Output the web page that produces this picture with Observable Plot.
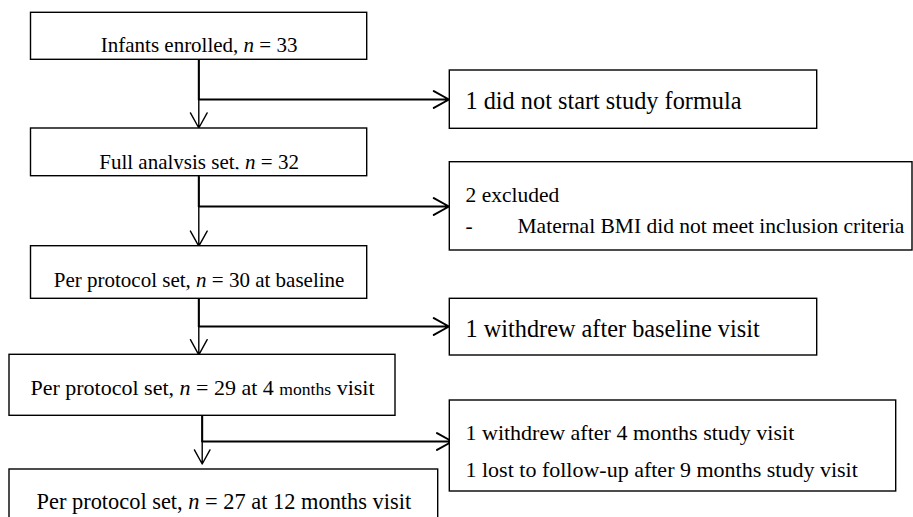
<!DOCTYPE html>
<html>
<head>
<meta charset="utf-8">
<script src="https://cdn.jsdelivr.net/npm/d3@7"></script>
<script src="https://cdn.jsdelivr.net/npm/@observablehq/plot@0.6"></script>
<style>
  html, body { margin: 0; padding: 0; background: #fff; }
  #chart svg { display: block; }
</style>
</head>
<body>
<div id="chart"></div>
<script>
// ---- Data: flow stages and exclusions ("*n*" = italic, "~x~" = smaller type)
const stageLabels = [
  "Infants enrolled, *n* = 33",
  "Full analysis set, *n* = 32",
  "Per protocol set, *n* = 30 at baseline",
  "Per protocol set, *n* = 29 at 4 ~months~ visit",
  "Per protocol set, *n* = 27 at 12 months visit"
];
const stageCounts = [33, 32, 30, 29, 27];
const exclusionLabels = [
  ["1 did not start study formula"],
  ["2 excluded", "-\tMaternal BMI did not meet inclusion criteria"],
  ["1 withdrew after baseline visit"],
  ["1 withdrew after 4 months study visit", "1 lost to follow-up after 9 months study visit"]
];

// ---- Layout (pixel frame of the 913×517 diagram)
const W = 913, H = 517;
const stageBoxes = [[30.5, 366.7, 12.3, 59.3], [30.5, 366.7, 128, 175.7], [30.5, 366.7, 245.7, 298.3], [9, 395, 354.3, 415.3], [9, 437.7, 469, 545]];
const stageBaselines = [51.7, 168, 286.7, 394, 508.3];
const stageFontSizes = [21, 21, 21, 22, 22.4];
const stageClip = [null, 168.8, null, null, null]; // second label is cut off in the source
const exclBoxes = [[449.3, 816.7, 70, 128.3], [449.3, 912, 161.7, 250], [449.3, 816.7, 298.3, 355], [449.3, 895.7, 400, 491]];
const exclBaselines = [[108.3], [201.7, 232.3], [336.7], [439.3, 476]];
const exclFontSizes = [24.3, 21.5, 24.3, 22];
const exclTextX = 465, exclIndent = 52;
const trunkX = [198.3, 198.3, 198.3, 201.7];
const branchY = [99, 206, 326, 441];
const trunkEnd = [127.5, 245.7, 354.3, 463.5];
const branchEnd = [448.5, 448.5, 448.5, 451.7];

// ---- Build tables
const boxes = [
  ...stageBoxes.map(([x1, x2, y1, y2]) => ({x1, x2, y1, y2})),
  ...exclBoxes.map(([x1, x2, y1, y2]) => ({x1, x2, y1, y2}))
];
const stageText = stageLabels.map((label, i) => ({
  label, count: stageCounts[i],
  x: (stageBoxes[i][0] + stageBoxes[i][1]) / 2,
  y: stageBaselines[i], size: stageFontSizes[i], clip: stageClip[i]
}));
const exclText = [];
exclusionLabels.forEach((lines, i) => {
  lines.forEach((line, j) => {
    const y = exclBaselines[i][j], size = exclFontSizes[i];
    if (line.startsWith("-\t")) {
      exclText.push({label: "-", x: exclTextX, y, size});
      exclText.push({label: line.slice(2), x: exclTextX + exclIndent, y, size});
    } else {
      exclText.push({label: line, x: exclTextX, y, size});
    }
  });
});
const trunkTop = trunkX.map((x, i) => ({x1: x, y1: stageBoxes[i][3], x2: x, y2: branchY[i]}));
const trunkFull = trunkX.map((x, i) => ({x1: x, y1: stageBoxes[i][3], x2: x, y2: trunkEnd[i]}));
const branches = trunkX.map((x, i) => ({x1: x, y1: branchY[i], x2: branchEnd[i], y2: branchY[i]}));

const font = "'Liberation Serif', 'Times New Roman', serif";
const textMarks = [...stageText, ...exclText].map(d =>
  Plot.text([d], {
    x: "x", y: "y", text: "label",
    textAnchor: stageText.includes(d) ? "middle" : "start",
    lineAnchor: "bottom",
    fontSize: d.size, fontFamily: font, fill: "black",
    className: d.clip ? "clipped-label" : undefined
  })
);

const chart = Plot.plot({
  width: W, height: H,
  marginTop: 0, marginRight: 0, marginBottom: 0, marginLeft: 0,
  x: {domain: [0, W], range: [0, W], axis: null},
  y: {domain: [0, H], range: [0, H], axis: null},
  style: {background: "white", fontFamily: font, overflow: "hidden"},
  marks: [
    Plot.arrow(trunkFull, {x1: "x1", y1: "y1", x2: "x2", y2: "y2", stroke: "black", strokeWidth: 1.4, headLength: 18.5, headAngle: 58}),
    Plot.link(trunkTop, {x1: "x1", y1: "y1", x2: "x2", y2: "y2", stroke: "black", strokeWidth: 2}),
    Plot.arrow(branches, {x1: "x1", y1: "y1", x2: "x2", y2: "y2", stroke: "black", strokeWidth: 2, headLength: 13, headAngle: 58}),
    Plot.rect(boxes, {x1: "x1", x2: "x2", y1: "y1", y2: "y2", fill: "white", stroke: "black", strokeWidth: 1.4}),
    ...textMarks
  ]
});

// clip the label that is cut at its baseline in the source
const svgNS = "http://www.w3.org/2000/svg";
const clipRow = stageText.find(d => d.clip);
if (clipRow) {
  const defs = document.createElementNS(svgNS, "defs");
  const cp = document.createElementNS(svgNS, "clipPath");
  cp.setAttribute("id", "label-clip");
  cp.setAttribute("clipPathUnits", "userSpaceOnUse");
  const r = document.createElementNS(svgNS, "rect");
  r.setAttribute("x", 0); r.setAttribute("y", 0);
  r.setAttribute("width", W); r.setAttribute("height", clipRow.clip);
  cp.appendChild(r); defs.appendChild(cp); chart.insertBefore(defs, chart.firstChild);
  chart.querySelectorAll("g.clipped-label").forEach(g => g.setAttribute("clip-path", "url(#label-clip)"));
}

// rich text: italic "n" and smaller "months"
d3.select(chart).selectAll("text").each(function () {
  const s = this.textContent;
  if (!/[*~]/.test(s)) return;
  const parts = s.split(/(\*[^*]+\*|~[^~]+~)/).filter(p => p !== "");
  this.textContent = "";
  for (const p of parts) {
    const t = document.createElementNS(svgNS, "tspan");
    if (p.startsWith("*")) { t.textContent = p.slice(1, -1); t.setAttribute("font-style", "italic"); }
    else if (p.startsWith("~")) { t.textContent = p.slice(1, -1); t.setAttribute("font-size", "0.8em"); }
    else t.textContent = p;
    this.appendChild(t);
  }
});

document.getElementById("chart").appendChild(chart);
</script>
</body>
</html>
